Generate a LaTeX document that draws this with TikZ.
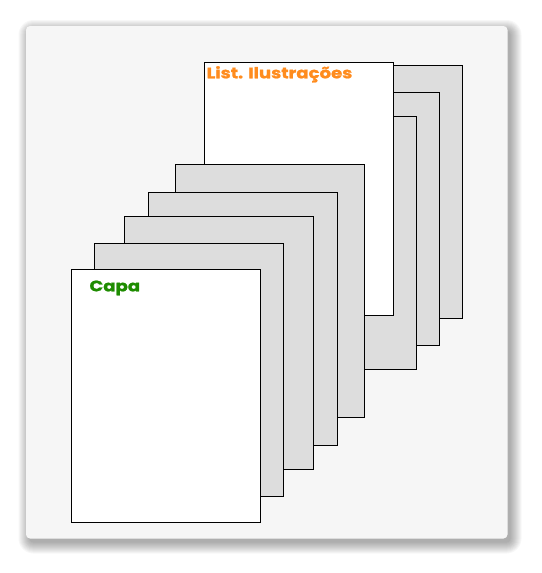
\documentclass[tikz,border=0pt]{standalone}
\usepackage{fontspec}
\newfontfamily\popb{Poppins}[UprightFont=* Bold, FakeStretch=1.19, FakeBold=1.2]
\definecolor{pagegray}{HTML}{DDDDDD}
\definecolor{panelbg}{HTML}{F6F6F6}
\definecolor{orangetxt}{RGB}{255,140,30}
\definecolor{greentxt}{RGB}{30,140,0}
\tikzset{
  pagebox/.style={draw=black, line width=1pt, fill=pagegray, rectangle,
    minimum width=189pt, minimum height=253pt, inner sep=0pt, outer sep=0pt, anchor=north west},
  whitepage/.style={pagebox, fill=white},
  pagelabel/.style={font=\popb\fontsize{15.2}{17}\selectfont, inner sep=0pt, anchor=base west}
}
\begin{document}
\begin{tikzpicture}[x=1pt,y=-1pt]
\useasboundingbox (0,0) rectangle (541,573);
% shadow
\foreach \i in {0,...,11}{
  \fill[black, opacity=0.03, rounded corners={4pt+\i pt}] (29.5-\i,31-\i) rectangle (510.5+\i,542.5+\i);
}
\fill[panelbg, rounded corners=4pt] (26,26) rectangle (507.5,538.5);
% back stack
\node[pagebox] (pa) at (273.3,65.7) {};
\node[pagebox] (pb) at (250.3,92) {};
\node[pagebox] (pc) at (227.3,116.7) {};
\node[whitepage] (list) at (204.3,62.7) {};
\node[pagelabel, text=orangetxt] (listlbl) at (206.5,78.3) {List. Ilustrações};
% front stack
\node[pagebox] (p1) at (175.3,164.7) {};
\node[pagebox] (p2) at (148.3,192.7) {};
\node[pagebox] (p3) at (124.3,216.7) {};
\node[pagebox] (p4) at (94.3,243.7) {};
\node[whitepage] (capa) at (71.3,269.3) {};
\node[pagelabel, text=greentxt] (capalbl) at (89.3,291.3) {Capa};
\end{tikzpicture}
\end{document}
